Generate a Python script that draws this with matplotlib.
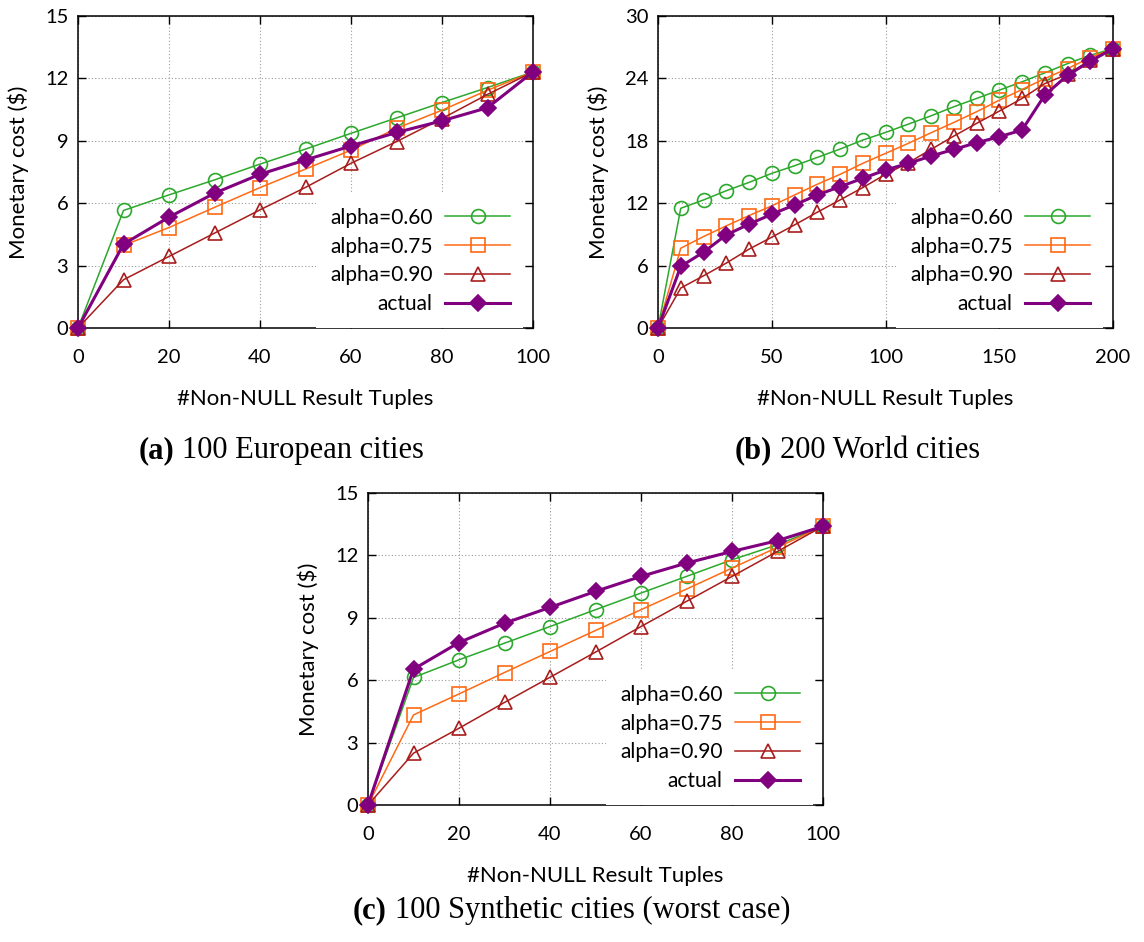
import matplotlib.pyplot as plt
import numpy as np
from matplotlib.axes import Axes

plt.rcParams['font.family'] = ['Lato', 'DejaVu Sans']

W, H = 1144, 942

# (a) 100 European cities
x_eu = np.arange(0, 101, 10)
eu_060 = [0, 5.65, 6.40, 7.12, 7.88, 8.60, 9.36, 10.10, 10.84, 11.56, 12.31]
eu_075 = [0, 3.97, 4.83, 5.80, 6.75, 7.64, 8.55, 9.60, 10.47, 11.43, 12.31]
eu_090 = [0, 2.32, 3.44, 4.56, 5.68, 6.76, 7.92, 8.96, 10.07, 11.23, 12.31]
eu_actual = [0, 4.03, 5.33, 6.48, 7.39, 8.08, 8.75, 9.40, 9.96, 10.59, 12.31]

# (b) 200 World cities
x_world = np.arange(0, 201, 10)
world_060 = [0, 11.51, 12.31, 13.20, 14.00, 14.87, 15.60, 16.40, 17.20, 18.07, 18.80,
             19.60, 20.40, 21.27, 22.07, 22.87, 23.67, 24.53, 25.42, 26.22, 26.86]
world_075 = [0, 7.67, 8.79, 9.82, 10.81, 11.74, 12.79, 13.82, 14.77, 15.83, 16.79,
             17.75, 18.77, 19.76, 20.79, 21.90, 22.93, 23.98, 24.94, 26.00, 26.86]
world_090 = [0, 3.84, 5.02, 6.24, 7.58, 8.73, 9.91, 11.13, 12.31, 13.50, 14.77,
             15.89, 17.17, 18.45, 19.67, 20.85, 22.07, 23.50, 24.40, 25.74, 26.86]
world_actual = [0, 5.92, 7.29, 8.95, 9.98, 10.94, 11.83, 12.79, 13.59, 14.39, 15.19,
                15.83, 16.53, 17.17, 17.81, 18.39, 19.03, 22.39, 24.30, 25.65, 26.86]

# (c) 100 Synthetic cities (worst case)
x_syn = np.arange(0, 101, 10)
syn_060 = [0, 6.13, 6.98, 7.78, 8.58, 9.39, 10.19, 10.99, 11.79, 12.51, 13.40]
syn_075 = [0, 4.33, 5.34, 6.37, 7.38, 8.39, 9.39, 10.38, 11.39, 12.39, 13.40]
syn_090 = [0, 2.49, 3.69, 4.93, 6.14, 7.35, 8.58, 9.79, 10.99, 12.19, 13.40]
syn_actual = [0, 6.53, 7.81, 8.74, 9.50, 10.27, 10.99, 11.63, 12.19, 12.71, 13.40]

labels = ['alpha=0.60', 'alpha=0.75', 'alpha=0.90', 'actual']
colors = ['#2ca82c', '#ff6a14', '#a81c1c', '#800080']
markers = ['o', 's', '^', 'D']
sizes = [10, 9.5, 9.5, 8.5]


def add_axes_px(left, top, right, bottom):
    return fig.add_axes([left / W, 1 - bottom / H, (right - left) / W, (bottom - top) / H])


def draw_panel(axis: Axes, x, series, xmax, ymax, xstep, ystep):
    for i, y in enumerate(series):
        thick = labels[i] == 'actual'
        axis.plot(
            x, y,
            label=labels[i],
            color=colors[i],
            linewidth=2.2 if thick else 1.1,
            marker=markers[i],
            markersize=sizes[i],
            markerfacecolor=colors[i] if thick else 'none',
            markeredgewidth=1.2,
            clip_on=False,
            zorder=3 + i,
        )
    axis.set_xlim(0, xmax)
    axis.set_ylim(0, ymax)
    axis.set_xticks(np.arange(0, xmax + 1, xstep))
    axis.set_yticks(np.arange(0, ymax + 1, ystep))
    axis.grid(color='#9a9a9a', linestyle=(0, (1, 2)), linewidth=0.8)
    axis.set_axisbelow(True)
    axis.tick_params(direction='in', length=6, width=1.0, top=True, right=True,
                     labelsize=14.5)
    axis.tick_params(axis='x', pad=15)
    axis.tick_params(axis='y', pad=7)
    for s in axis.spines.values():
        s.set_linewidth(1.1)
    axis.set_xlabel('#Non-NULL Result Tuples', fontsize=16)
    axis.set_ylabel('Monetary cost ($)', fontsize=16)
    axis.xaxis.set_label_coords(0.5, -0.196)
    axis.yaxis.set_label_coords(-0.107, 0.5)
    leg = axis.legend(
        loc='lower right', bbox_to_anchor=(0.979, 0), borderaxespad=0,
        markerfirst=False, fontsize=15, handlelength=3.1, handletextpad=0.62,
        labelspacing=0.43, borderpad=0.65, fancybox=False,
        facecolor='white', edgecolor='none', framealpha=1,
    )
    leg.set_zorder(10)


def caption(x_split, y_base, tag, text):
    fig.text(x_split / W, 1 - y_base / H, tag, ha='right', va='baseline',
             family='Liberation Serif', fontweight='bold', fontsize=22)
    fig.text((x_split + 8) / W, 1 - y_base / H, text, ha='left', va='baseline',
             family='Liberation Serif', fontsize=22)


fig = plt.figure(figsize=(W / 100, H / 100), dpi=100, facecolor='white')

ax_a = add_axes_px(78, 16, 533, 328)
ax_b = add_axes_px(658, 16, 1113, 328)
ax_c = add_axes_px(368, 493, 823, 805)

draw_panel(ax_a, x_eu, [eu_060, eu_075, eu_090, eu_actual], 100, 15, 20, 3)
draw_panel(ax_b, x_world, [world_060, world_075, world_090, world_actual], 200, 30, 50, 6)
draw_panel(ax_c, x_syn, [syn_060, syn_075, syn_090, syn_actual], 100, 15, 20, 3)

caption(174, 458, '(a)', '100 European cities')
caption(772, 458, '(b)', '200 World cities')
caption(387, 918, '(c)', '100 Synthetic cities (worst case)')

fig.savefig('out.png', dpi=100)
